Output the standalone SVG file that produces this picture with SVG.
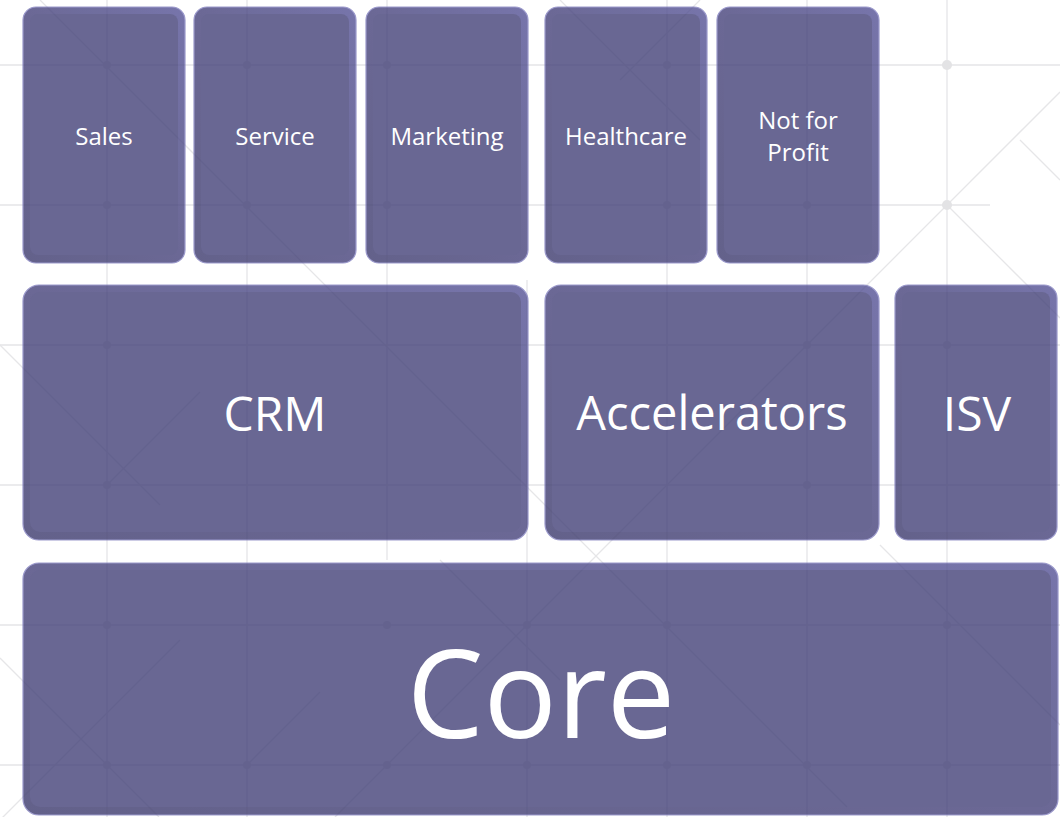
<svg xmlns="http://www.w3.org/2000/svg" xmlns:xlink="http://www.w3.org/1999/xlink" width="1060" height="817" viewBox="0 0 1060 817">
<style>
.lbl{font-family:"Open Sans","Noto Sans","Liberation Sans",sans-serif;fill:#ffffff;text-anchor:middle}
.s{font-size:24px}
.m{font-size:48px}
.l{font-size:122px}
.edge{fill:url(#bev);stroke:#9593c9;stroke-width:1.2}
.face{fill:#605e8d}
.node{opacity:0.94}
</style>
<defs>
<linearGradient id="bev" x1="0" y1="1" x2="1" y2="0">
<stop offset="0" stop-color="#5a5883"/>
<stop offset="0.5" stop-color="#625f8f"/>
<stop offset="1" stop-color="#6f6da6"/>
</linearGradient>
<g id="net">
<path d="M107 0V817M247 0V817M387 0V560M527 280V817M667 0V817M807 0V817M947 0V817"/>
<path d="M0 65H1060M0 205H990M0 345H1060M0 485H1060M0 625H1060M0 765H1060"/>
<path d="M40 0L847 807M1060 92L335 817M947 205L1060 318M1020 140L1060 180M0 658L159 817M0 345L160 505M107 485L200 392M247 765L320 692M0 820L180 640M440 560L560 680M880 545L1060 725M560 0L700 140M700 0L620 80"/>
<g stroke="none">
<circle cx="107" cy="65" r="4"/><circle cx="247" cy="65" r="4"/><circle cx="387" cy="65" r="4"/><circle cx="667" cy="65" r="4"/><circle cx="947" cy="65" r="5"/>
<circle cx="107" cy="205" r="4"/><circle cx="247" cy="205" r="4"/><circle cx="387" cy="205" r="4"/><circle cx="667" cy="205" r="4"/><circle cx="807" cy="205" r="4"/><circle cx="947" cy="205" r="5"/>
<circle cx="107" cy="345" r="4"/><circle cx="807" cy="345" r="4"/><circle cx="947" cy="345" r="4"/>
<circle cx="107" cy="485" r="4"/><circle cx="807" cy="485" r="4"/>
<circle cx="107" cy="625" r="4"/><circle cx="387" cy="625" r="4"/><circle cx="527" cy="625" r="4"/><circle cx="667" cy="625" r="4"/><circle cx="947" cy="625" r="4"/>
<circle cx="107" cy="765" r="4"/><circle cx="247" cy="765" r="4"/><circle cx="387" cy="765" r="4"/><circle cx="527" cy="765" r="4"/><circle cx="667" cy="765" r="4"/><circle cx="807" cy="765" r="4"/><circle cx="947" cy="765" r="4"/>
</g>
</g>
</defs>
<rect width="1060" height="817" fill="#ffffff"/>
<use xlink:href="#net" href="#net" stroke="#f1f1f1" fill="#eeeeee" stroke-width="1.3"/>

<g id="connectors"></g>

<g id="sales" class="node"><rect class="edge" x="23" y="7" width="162" height="256" rx="13"/><rect class="face" x="30" y="14" width="148" height="241" rx="8"/></g>
<g id="service" class="node"><rect class="edge" x="194" y="7" width="162" height="256" rx="13"/><rect class="face" x="201" y="14" width="148" height="241" rx="8"/></g>
<g id="marketing" class="node"><rect class="edge" x="366" y="7" width="162" height="256" rx="13"/><rect class="face" x="373" y="14" width="148" height="241" rx="8"/></g>
<g id="healthcare" class="node"><rect class="edge" x="545" y="7" width="162" height="256" rx="13"/><rect class="face" x="552" y="14" width="148" height="241" rx="8"/></g>
<g id="notforprofit" class="node"><rect class="edge" x="717" y="7" width="162" height="256" rx="13"/><rect class="face" x="724" y="14" width="148" height="241" rx="8"/></g>
<g id="crm" class="node"><rect class="edge" x="23" y="285" width="505" height="255" rx="16"/><rect class="face" x="30" y="292" width="491" height="240" rx="10"/></g>
<g id="accelerators" class="node"><rect class="edge" x="545" y="285" width="334" height="255" rx="16"/><rect class="face" x="552" y="292" width="320" height="240" rx="10"/></g>
<g id="isv" class="node"><rect class="edge" x="895" y="285" width="162" height="255" rx="13"/><rect class="face" x="902" y="292" width="148" height="240" rx="8"/></g>
<g id="core" class="node"><rect class="edge" x="23" y="563" width="1035" height="252" rx="16"/><rect class="face" x="30" y="570" width="1021" height="237" rx="10"/></g>

<use xlink:href="#net" href="#net" stroke="#2e2c55" fill="#2e2c55" stroke-width="1.3" opacity="0.05"/>

<g id="labels">
<text class="lbl s" x="104" y="145">Sales</text>
<text class="lbl s" x="275" y="145">Service</text>
<text class="lbl s" x="447" y="145">Marketing</text>
<text class="lbl s" x="626" y="145">Healthcare</text>
<text class="lbl s" x="798" y="129">Not for</text>
<text class="lbl s" x="798" y="161">Profit</text>
<text class="lbl m" x="275" y="431">CRM</text>
<text class="lbl m" x="712" y="430" style="font-size:47px">Accelerators</text>
<text class="lbl m" x="977" y="431">ISV</text>
<text class="lbl l" x="541" y="738">Core</text>
</g>
</svg>
